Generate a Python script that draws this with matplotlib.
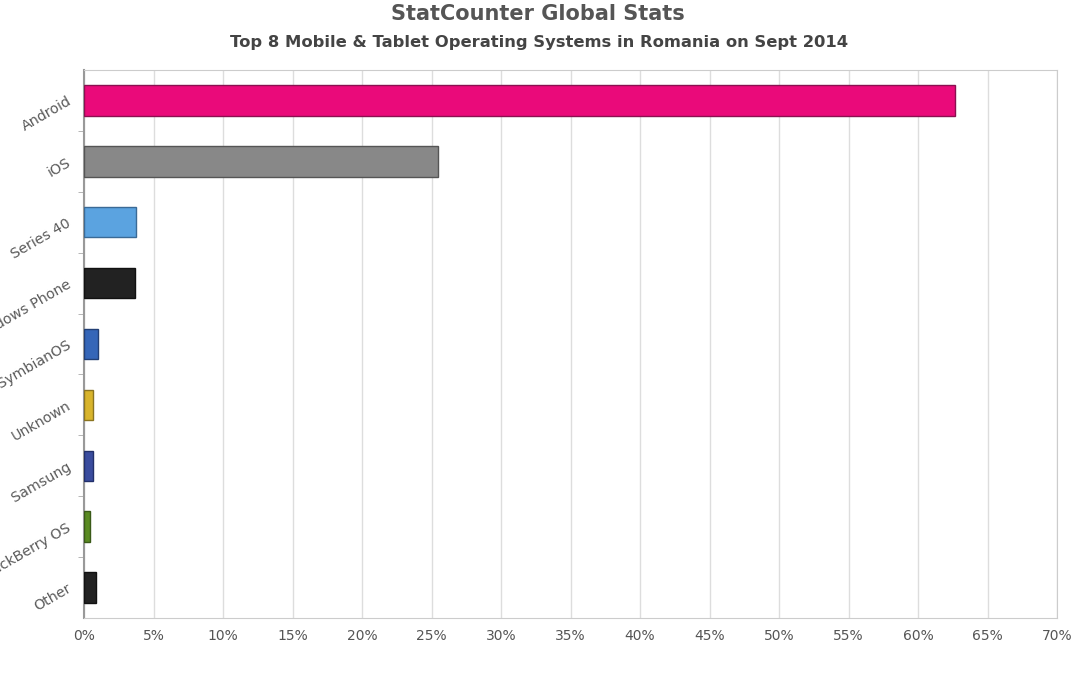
import matplotlib
matplotlib.use("Agg")
import matplotlib.pyplot as plt
from matplotlib.ticker import FuncFormatter, MultipleLocator, FixedLocator

categories = ["Android", "iOS", "Series 40", "Windows Phone", "SymbianOS",
              "Unknown", "Samsung", "BlackBerry OS", "Other"]
values = [62.65, 25.45, 3.72, 3.65, 1.02, 0.66, 0.65, 0.45, 0.85]
colors = ["#EA0A7A", "#888888", "#5BA3E0", "#222222", "#3566B8",
          "#D8B42C", "#3A4C9E", "#5A8A22", "#222222"]
edges = ["#8A1050", "#555555", "#3A6A96", "#111111", "#223F75",
         "#8A7420", "#22306A", "#3A5A18", "#111111"]

fig = plt.figure(figsize=(10.78, 7.0), dpi=100)
ax = fig.add_axes([84/1078, 1-618/700, (1057-84)/1078, (618-70)/700])

y = list(range(len(categories)))
ax.barh(y, values, height=0.5, color=colors, edgecolor=edges, linewidth=1.0, zorder=3)
ax.set_ylim(len(categories)-0.5, -0.5)
ax.set_xlim(0, 70)
ax.xaxis.set_major_locator(MultipleLocator(5))
ax.xaxis.set_major_formatter(FuncFormatter(lambda v, p: f"{int(round(v))}%"))
ax.grid(axis="x", color="#dddddd", linewidth=1, zorder=0)

ax.set_yticks(y)
ax.set_yticklabels(categories, rotation=30, ha="right", va="center",
                   rotation_mode="anchor", color="#5a5a5a", fontsize=10.3)
ax.tick_params(axis="y", length=0, pad=10)
ax.yaxis.set_minor_locator(FixedLocator([i + 0.5 for i in range(len(categories)-1)]))
ax.tick_params(axis="y", which="minor", length=4, color="#aaaaaa")
ax.tick_params(axis="x", length=0, pad=8, labelsize=10, labelcolor="#555555")

for s in ["top", "right"]:
    ax.spines[s].set_color("#cccccc")
ax.spines["bottom"].set_color("#cccccc")
ax.spines["left"].set_color("#999999")
ax.spines["left"].set_linewidth(1.5)

fig.text(538/1078, 1-14/700, "StatCounter Global Stats", ha="center", va="center",
         fontsize=15, fontweight="bold", color="#555555")
fig.text(539/1078, 1-43/700, "Top 8 Mobile & Tablet Operating Systems in Romania on Sept 2014",
         ha="center", va="center", fontsize=11.8, fontweight="bold", color="#444444")

fig.savefig("out.png", dpi=100, facecolor="white")
